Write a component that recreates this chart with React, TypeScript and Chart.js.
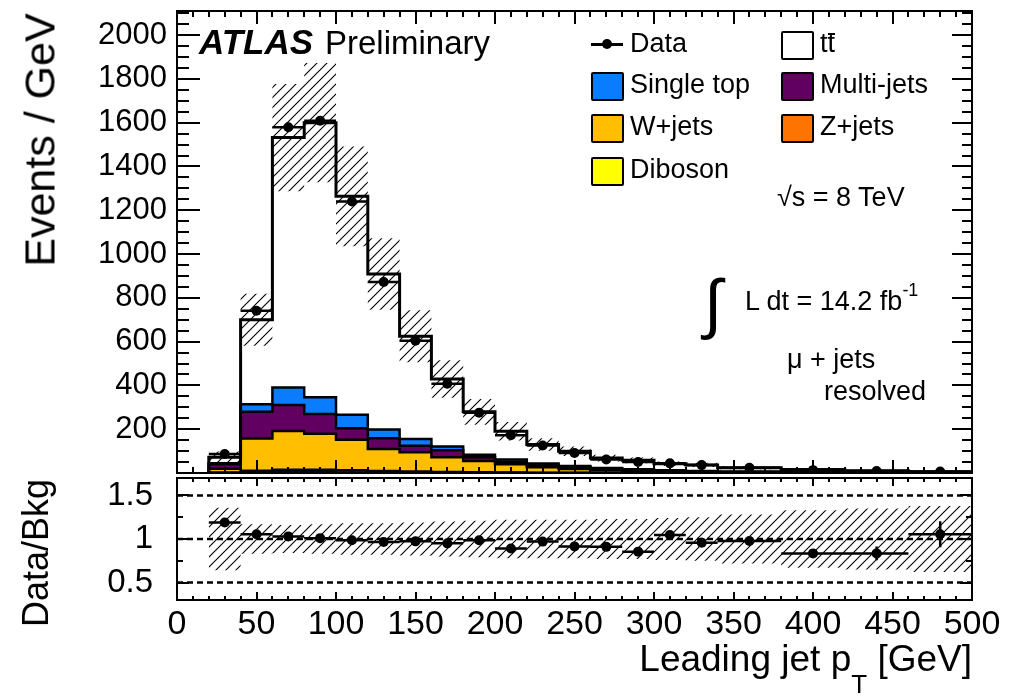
import React, { useEffect, useRef } from "react";
import { Chart, registerables } from "chart.js";

Chart.register(...registerables);

const FONT = "'Liberation Sans', Arial, Helvetica, sans-serif";

// ---------------- data ----------------
const binEdges = [20, 40, 60, 80, 100, 120, 140, 160, 180, 200, 220, 240, 260, 280, 300, 320, 340, 380, 420, 460, 500];

const diboson = [0.5, 2, 3, 3, 2.5, 2, 1.5, 1, 1, 0.7, 0.5, 0.4, 0.3, 0.2, 0.2, 0.1, 0.1, 0.1, 0.05, 0.03];
const zJets = [2, 8, 12, 12, 10, 7, 5, 3.5, 2.5, 1.8, 1.2, 1, 0.7, 0.5, 0.4, 0.3, 0.2, 0.15, 0.1, 0.05];
const wJets = [17, 147, 177, 164, 139, 101, 88, 67, 51, 37, 24, 17, 11, 8, 6.4, 4.6, 3.2, 1.8, 1.0, 0.7];
const multiJets = [20, 123, 119, 91, 53, 49, 30, 32, 18, 12, 10, 8, 6, 4, 3, 2, 1.5, 1, 0.6, 0.3];
const singleTop = [5, 34, 80, 76, 61, 40, 31, 17, 11, 10, 8, 6, 5, 4, 3, 2, 1.5, 1, 0.6, 0.4];
const ttbar = [28, 386, 1141, 1254, 998, 710, 469, 309, 196, 129, 86, 67, 45, 41, 29, 28, 18, 11.5, 8, 4.5];

const dataValues = [87, 741, 1579, 1609, 1240, 872, 604, 408, 275, 172, 126, 91, 62, 50, 44, 36, 24, 13, 9, 6.3];
const mcRelUnc = [0.36, 0.17, 0.16, 0.17, 0.18, 0.18, 0.19, 0.2, 0.21, 0.22, 0.22, 0.22, 0.23, 0.23, 0.24, 0.25, 0.28, 0.33, 0.35, 0.38];

const ratioValues = [1.19, 1.054, 1.03, 1.01, 0.985, 0.965, 0.973, 0.95, 0.985, 0.89, 0.97, 0.915, 0.91, 0.855, 1.046, 0.958, 0.977, 0.835, 0.835, 1.054];
const ratioErrors = [0.02, 0.01, 0.01, 0.01, 0.01, 0.01, 0.01, 0.01, 0.02, 0.02, 0.02, 0.02, 0.03, 0.03, 0.03, 0.04, 0.04, 0.05, 0.08, 0.15];

const mainYTicks = [200, 400, 600, 800, 1000, 1200, 1400, 1600, 1800, 2000];
const xTickValues = [0, 50, 100, 150, 200, 250, 300, 350, 400, 450, 500];
const ratioYTicks = [0.5, 1, 1.5];
const ratioRefLines = [0.5, 1, 1.5];

const stackColors = ["#ffff00", "#ff7300", "#ffbf00", "#620062", "#0a7cff", "#ffffff"];

// ---------------- helpers ----------------
type P = { x: number; y: number | null };

function histPoints(vals: number[], fromZero: boolean): P[] {
  const pts: P[] = [];
  if (fromZero) pts.push({ x: binEdges[0], y: 0 });
  vals.forEach((v, i) => {
    pts.push({ x: binEdges[i], y: v });
    pts.push({ x: binEdges[i + 1], y: v });
  });
  return pts;
}

function hBars(vals: number[]): P[] {
  const pts: P[] = [];
  vals.forEach((v, i) => {
    pts.push({ x: binEdges[i], y: v }, { x: binEdges[i + 1], y: v }, { x: binEdges[i + 1], y: null });
  });
  return pts;
}

function vBars(vals: number[], errs: number[]): P[] {
  const pts: P[] = [];
  vals.forEach((v, i) => {
    const c = (binEdges[i] + binEdges[i + 1]) / 2;
    pts.push({ x: c, y: v - errs[i] }, { x: c, y: v + errs[i] }, { x: c, y: null });
  });
  return pts;
}

function centers(vals: number[]): P[] {
  return vals.map((v, i) => ({ x: (binEdges[i] + binEdges[i + 1]) / 2, y: v }));
}

function makeHatch(): CanvasPattern | string {
  const s = 10;
  const c = document.createElement("canvas");
  c.width = s;
  c.height = s;
  const g = c.getContext("2d");
  if (!g) return "rgba(0,0,0,0.2)";
  g.strokeStyle = "#000";
  g.lineWidth = 1.1;
  g.beginPath();
  g.moveTo(0, s);
  g.lineTo(s, 0);
  g.moveTo(-1, 1);
  g.lineTo(1, -1);
  g.moveTo(s - 1, s + 1);
  g.lineTo(s + 1, s - 1);
  g.stroke();
  return g.createPattern(c, "repeat") || "rgba(0,0,0,0.2)";
}

const rootFrame = {
  id: "rootFrame",
  afterDraw(chart: any, _args: any, o: any) {
    const { ctx, chartArea: a, scales } = chart;
    const xs = scales.x;
    const ys = scales.y;
    ctx.save();
    ctx.strokeStyle = "#000";
    ctx.lineWidth = 2;
    ctx.beginPath();
    for (let v = xs.min; v <= xs.max + 1e-9; v += o.xMinor) {
      const px = Math.round(xs.getPixelForValue(v));
      const major = Math.abs(v / o.xMajor - Math.round(v / o.xMajor)) < 1e-6;
      const len = major ? o.xMajorLen : o.xMinorLen;
      ctx.moveTo(px, a.bottom);
      ctx.lineTo(px, a.bottom - len);
      ctx.moveTo(px, a.top);
      ctx.lineTo(px, a.top + len);
    }
    const y0 = Math.ceil(ys.min / o.yMinor - 1e-9) * o.yMinor;
    for (let v = y0; v <= ys.max + 1e-9; v += o.yMinor) {
      const py = Math.round(ys.getPixelForValue(v));
      const major = Math.abs(v / o.yMajor - Math.round(v / o.yMajor)) < 1e-6;
      const lenL = major ? o.yMajorLen : o.yMinorLen;
      const lenR = major ? o.yMajorLenR : o.yMinorLenR;
      ctx.moveTo(a.left, py);
      ctx.lineTo(a.left + lenL, py);
      ctx.moveTo(a.right, py);
      ctx.lineTo(a.right - lenR, py);
    }
    ctx.stroke();
    ctx.lineWidth = 2;
    ctx.strokeRect(a.left, a.top, a.right - a.left, a.bottom - a.top);
    ctx.restore();
  },
};

const noPad = (s: any) => {
  s.paddingTop = 0;
  s.paddingBottom = 0;
  s.paddingLeft = 0;
  s.paddingRight = 0;
};

const lineBase = {
  borderColor: "#000",
  borderWidth: 2.5,
  pointRadius: 0,
  tension: 0,
  spanGaps: false,
};

function mainConfig(hatch: any): any {
  const comps = [diboson, zJets, wJets, multiJets, singleTop, ttbar];
  const cum: number[][] = [];
  comps.forEach((c, k) => {
    cum.push(c.map((v, i) => v + (k > 0 ? cum[k - 1][i] : 0)));
  });
  const total = cum[cum.length - 1];
  const stackSets = cum.map((vals, k) => ({
    ...lineBase,
    data: histPoints(vals, true),
    fill: k === 0 ? "origin" : "-1",
    backgroundColor: stackColors[k],
    borderWidth: k === cum.length - 1 ? 3 : 2.5,
    order: 7 - k,
  }));
  return {
    type: "line",
    data: {
      datasets: [
        ...stackSets,
        {
          ...lineBase,
          data: histPoints(total.map((t, i) => t * (1 - mcRelUnc[i])), false),
          borderColor: "rgba(0,0,0,0)",
          borderWidth: 0,
          fill: false,
          order: 1,
        },
        {
          ...lineBase,
          data: histPoints(total.map((t, i) => t * (1 + mcRelUnc[i])), false),
          borderColor: "rgba(0,0,0,0)",
          borderWidth: 0,
          fill: "-1",
          backgroundColor: hatch,
          order: 1,
        },
        { ...lineBase, data: hBars(dataValues), borderWidth: 2.5, fill: false, order: 0 },
        {
          ...lineBase,
          data: centers(dataValues),
          showLine: false,
          pointRadius: 5,
          pointBackgroundColor: "#000",
          pointBorderWidth: 0,
          fill: false,
          order: 0,
        },
      ],
    },
    options: {
      animation: false,
      responsive: false,
      events: [],
      layout: { autoPadding: false, padding: { top: 11, right: 40, left: 0, bottom: 3 } },
      plugins: {
        legend: { display: false },
        tooltip: { enabled: false },
        filler: { drawTime: "beforeDatasetsDraw" },
        rootFrame: {
          xMinor: 10, xMajor: 50, xMajorLen: 13, xMinorLen: 6,
          yMinor: 50, yMajor: 200, yMajorLen: 23, yMinorLen: 12, yMajorLenR: 20, yMinorLenR: 10,
        },
      },
      scales: {
        x: { type: "linear", min: 0, max: 500, display: false },
        y: {
          type: "linear",
          min: 0,
          max: 2110,
          afterBuildTicks: (s: any) => {
            s.ticks = mainYTicks.map((v) => ({ value: v }));
          },
          afterFit: (s: any) => {
            s.width = 177;
            noPad(s);
          },
          grid: { display: false, drawTicks: false },
          border: { display: false },
          ticks: {
            padding: 10,
            color: "#000",
            font: { family: FONT, size: 31 },
            callback: (v: any) => String(v),
          },
        },
      },
    },
    plugins: [rootFrame],
  };
}

function ratioConfig(hatch: any): any {
  const refSets = ratioRefLines.map((v) => ({
    ...lineBase,
    data: [{ x: 0, y: v }, { x: 500, y: v }],
    borderWidth: 2.5,
    borderDash: [6, 4],
    fill: false,
    order: 5,
  }));
  return {
    type: "line",
    data: {
      datasets: [
        ...refSets,
        {
          ...lineBase,
          data: histPoints(mcRelUnc.map((u) => 1 - u), false),
          borderColor: "rgba(0,0,0,0)",
          borderWidth: 0,
          fill: false,
          order: 2,
        },
        {
          ...lineBase,
          data: histPoints(mcRelUnc.map((u) => 1 + u), false),
          borderColor: "rgba(0,0,0,0)",
          borderWidth: 0,
          fill: "-1",
          backgroundColor: hatch,
          order: 2,
        },
        { ...lineBase, data: hBars(ratioValues), borderWidth: 2.5, fill: false, order: 0 },
        { ...lineBase, data: vBars(ratioValues, ratioErrors), borderWidth: 2.5, fill: false, order: 0 },
        {
          ...lineBase,
          data: centers(ratioValues),
          showLine: false,
          pointRadius: 5,
          pointBackgroundColor: "#000",
          pointBorderWidth: 0,
          fill: false,
          order: 0,
        },
      ],
    },
    options: {
      animation: false,
      responsive: false,
      events: [],
      layout: { autoPadding: false, padding: { top: 2, right: 40, left: 0, bottom: 0 } },
      plugins: {
        legend: { display: false },
        tooltip: { enabled: false },
        filler: { drawTime: "beforeDatasetsDraw" },
        rootFrame: {
          xMinor: 10, xMajor: 50, xMajorLen: 8, xMinorLen: 4,
          yMinor: 0.25, yMajor: 0.5, yMajorLen: 12, yMinorLen: 6, yMajorLenR: 12, yMinorLenR: 6,
        },
      },
      scales: {
        x: {
          type: "linear",
          min: 0,
          max: 500,
          afterBuildTicks: (s: any) => {
            s.ticks = xTickValues.map((v) => ({ value: v }));
          },
          afterFit: (s: any) => {
            s.height = 97;
            noPad(s);
          },
          grid: { display: false, drawTicks: false },
          border: { display: false },
          ticks: {
            padding: 4,
            color: "#000",
            autoSkip: false,
            maxRotation: 0,
            font: { family: FONT, size: 34 },
            callback: (v: any) => String(v),
          },
        },
        y: {
          type: "linear",
          min: 0.3,
          max: 1.7,
          afterBuildTicks: (s: any) => {
            s.ticks = ratioYTicks.map((v) => ({ value: v }));
          },
          afterFit: (s: any) => {
            s.width = 177;
            noPad(s);
          },
          grid: { display: false, drawTicks: false },
          border: { display: false },
          ticks: {
            padding: 24,
            color: "#000",
            font: { family: FONT, size: 33 },
            callback: (v: any) => String(v),
          },
        },
      },
    },
    plugins: [rootFrame],
  };
}

// ---------------- overlay text ----------------
function Txt(props: { x: number; base: number; size: number; children: any; style?: any }) {
  const { x, base, size, children, style } = props;
  return (
    <div
      style={{
        position: "absolute",
        left: x,
        top: base - 0.8465 * size,
        fontSize: size,
        lineHeight: `${size}px`,
        whiteSpace: "nowrap",
        ...style,
      }}
    >
      {children}
    </div>
  );
}

function Swatch(props: { x: number; y: number; color: string }) {
  return (
    <div
      style={{
        position: "absolute",
        left: props.x,
        top: props.y,
        width: 29,
        height: 25,
        background: props.color,
        border: "2px solid #000",
        borderRadius: 2,
      }}
    />
  );
}

function RotTxt(props: { cx: number; cy: number; size: number; children: any }) {
  return (
    <div
      style={{
        position: "absolute",
        left: props.cx,
        top: props.cy,
        fontSize: props.size,
        lineHeight: `${props.size}px`,
        whiteSpace: "nowrap",
        transform: "translate(-50%, -50%) rotate(-90deg)",
      }}
    >
      {props.children}
    </div>
  );
}

export default function App() {
  const mainRef = useRef<HTMLCanvasElement>(null);
  const ratioRef = useRef<HTMLCanvasElement>(null);

  useEffect(() => {
    const hatch = makeHatch();
    const main = new Chart(mainRef.current as HTMLCanvasElement, mainConfig(hatch));
    const ratio = new Chart(ratioRef.current as HTMLCanvasElement, ratioConfig(hatch));
    return () => {
      main.destroy();
      ratio.destroy();
    };
  }, []);

  const legendFont = 27;
  const rows = [53, 94, 136, 179];

  return (
    <div
      style={{
        position: "absolute",
        left: 0,
        top: 0,
        width: 1012,
        height: 697,
        background: "#fff",
        color: "#000",
        fontFamily: FONT,
        overflow: "hidden",
      }}
    >
      <canvas ref={mainRef} width={1012} height={476} style={{ position: "absolute", left: 0, top: 0 }} />
      <canvas ref={ratioRef} width={1012} height={221} style={{ position: "absolute", left: 0, top: 476 }} />

      <Txt x={199} base={54} size={35} style={{ fontWeight: "bold", fontStyle: "italic" }}>ATLAS</Txt>
      <Txt x={325} base={54} size={33}>Preliminary</Txt>

      {/* legend column 1 */}
      <div style={{ position: "absolute", left: 591, top: 43, width: 32, height: 2.5, background: "#000" }} />
      <div style={{ position: "absolute", left: 602, top: 39, width: 10, height: 10, borderRadius: 5, background: "#000" }} />
      <Txt x={630} base={rows[0]} size={legendFont}>Data</Txt>
      <Swatch x={591} y={rows[1] - 22} color={stackColors[4]} />
      <Txt x={630} base={rows[1]} size={legendFont}>Single top</Txt>
      <Swatch x={591} y={rows[2] - 22} color={stackColors[2]} />
      <Txt x={630} base={rows[2]} size={legendFont}>W+jets</Txt>
      <Swatch x={591} y={rows[3] - 22} color={stackColors[0]} />
      <Txt x={630} base={rows[3]} size={legendFont}>Diboson</Txt>

      {/* legend column 2 */}
      <Swatch x={781} y={rows[0] - 22} color={stackColors[5]} />
      <Txt x={820} base={rows[0]} size={legendFont}>
        t
        <span style={{ position: "relative", display: "inline-block" }}>
          t
          <span
            style={{
              position: "absolute",
              left: 0,
              right: 0,
              top: 3,
              height: 2,
              background: "#000",
            }}
          />
        </span>
      </Txt>
      <Swatch x={781} y={rows[1] - 22} color={stackColors[3]} />
      <Txt x={820} base={rows[1]} size={legendFont}>Multi-jets</Txt>
      <Swatch x={781} y={rows[2] - 22} color={stackColors[1]} />
      <Txt x={820} base={rows[2]} size={legendFont}>Z+jets</Txt>

      <Txt x={777} base={207} size={27}>√s = 8 TeV</Txt>

      <Txt x={704} base={326} size={66}>∫</Txt>
      <Txt x={745} base={311} size={27}>
        L dt = 14.2 fb<span style={{ fontSize: 18, position: "relative", top: -14 }}>-1</span>
      </Txt>
      <Txt x={787} base={369} size={27}>μ + jets</Txt>
      <Txt x={824} base={401} size={27}>resolved</Txt>

      <RotTxt cx={40} cy={140} size={43}>Events / GeV</RotTxt>
      <RotTxt cx={36} cy={553} size={36}>Data/Bkg</RotTxt>

      <div
        style={{
          position: "absolute",
          right: 40,
          top: 671 - 0.8465 * 37,
          fontSize: 37,
          lineHeight: "37px",
          whiteSpace: "nowrap",
        }}
      >
        Leading jet p<span style={{ fontSize: 26, position: "relative", top: 22 }}>T</span> [GeV]
      </div>
    </div>
  );
}
